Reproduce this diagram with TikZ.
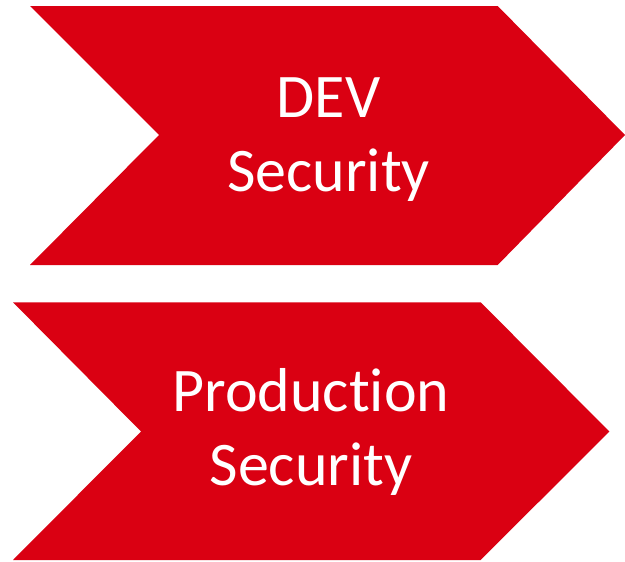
\documentclass[tikz,border=0pt]{standalone}
\usepackage{fontspec}
\setmainfont[Ligatures=NoCommon]{Carlito}
\definecolor{chevred}{RGB}{218,0,18}
\begin{document}
\begin{tikzpicture}[x=1pt,y=-1pt,
  chevron/.style={fill=chevred,draw=none},
  label/.style={text=white,align=center,inner sep=0pt,anchor=base,
    font=\fontsize{62}{74}\selectfont}]
\useasboundingbox (0,0) rectangle (625,562);
% upper chevron
\fill[chevron] (30,6) -- (497.7,6) -- (625,135) -- (497.7,265)
  -- (30,265) -- (159,135) -- cycle;
\node[label] (dev) at (328.5,191.7) {DEV\\Security};
% lower chevron
\fill[chevron] (13,302.3) -- (480.7,302.3) -- (609.3,431.5) -- (480.7,560)
  -- (13,560) -- (141,431.5) -- cycle;
\node[label] (prod) at (311,485) {Production\\Security};
\end{tikzpicture}
\end{document}
